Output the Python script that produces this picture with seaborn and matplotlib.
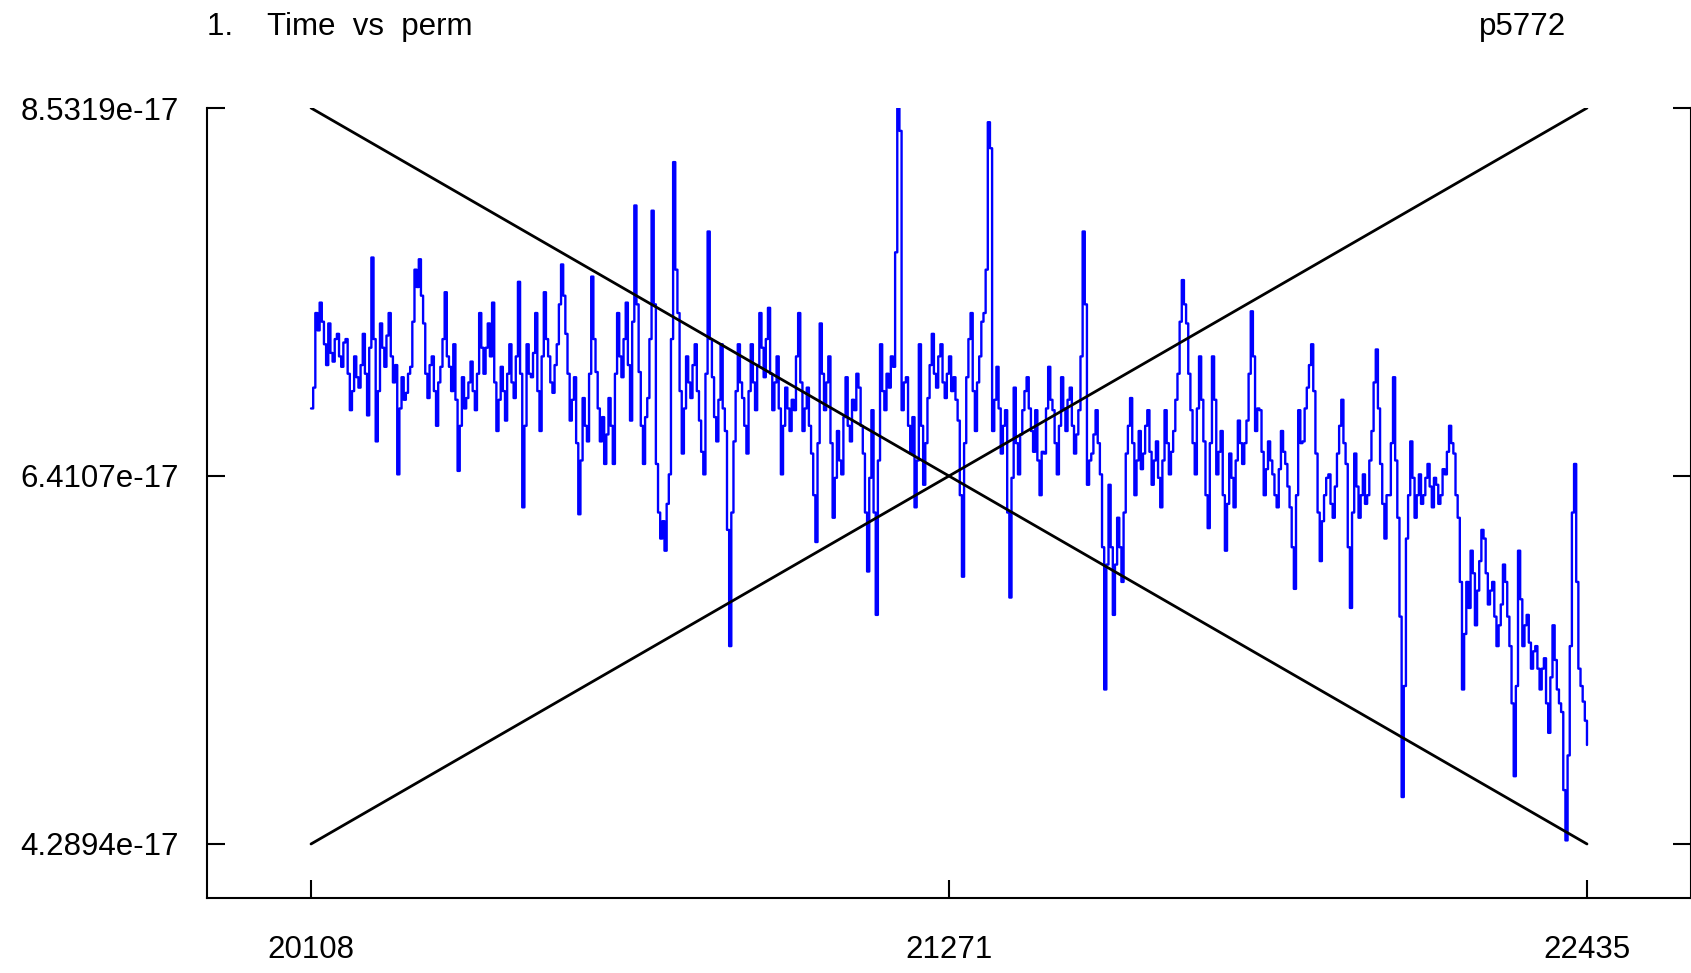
import numpy as np
import pandas as pd
import matplotlib
matplotlib.use("Agg")
import matplotlib.pyplot as plt
import seaborn as sns

# ---- data -----------------------------------------------------------------
x_start, x_mid, x_end = 20108, 21271, 22435
y_low, y_mid, y_high = 4.2894e-17, 6.4107e-17, 8.5319e-17

# sampled series (units of 1e-17), evenly spaced from x_start to x_end
perm_vals = [
    6.80, 6.92, 7.35, 7.25, 7.41, 7.30, 7.17, 7.05, 7.29, 7.12, 7.07, 7.20, 7.23, 7.10, 7.04, 7.18, 7.20, 7.00, 6.79, 6.90,
    7.10, 6.98, 6.92, 7.05, 7.23, 7.00, 6.76, 7.15, 7.67, 7.20, 6.61, 6.90, 7.29, 7.15, 7.04, 7.22, 7.35, 7.10, 6.95, 7.05,
    6.42, 6.80, 6.98, 6.85, 6.89, 7.00, 7.04, 7.30, 7.60, 7.50, 7.66, 7.45, 7.29, 7.00, 6.86, 7.05, 7.10, 6.90, 6.70, 6.95,
    7.04, 7.20, 7.47, 7.10, 7.04, 6.90, 7.17, 6.85, 6.44, 6.70, 6.98, 6.80, 6.86, 6.95, 7.07, 6.90, 6.79, 7.00, 7.35, 7.15,
    7.00, 7.15, 7.29, 7.10, 7.41, 6.95, 6.67, 6.85, 7.04, 6.90, 6.73, 7.00, 7.17, 6.95, 6.86, 7.10, 7.53, 7.00, 6.23, 6.70,
    7.17, 7.00, 6.98, 7.12, 7.35, 6.90, 6.67, 7.10, 7.47, 7.20, 7.10, 6.95, 6.89, 7.05, 7.17, 7.40, 7.63, 7.45, 7.23, 7.00,
    6.73, 6.85, 6.98, 6.60, 6.19, 6.50, 6.86, 6.70, 6.61, 7.00, 7.56, 7.20, 7.01, 6.80, 6.61, 6.75, 6.48, 6.65, 6.86, 6.70,
    6.48, 7.00, 7.35, 7.10, 6.98, 7.20, 7.41, 7.05, 6.73, 7.30, 7.97, 7.40, 7.01, 6.70, 6.48, 6.75, 6.86, 7.20, 7.94, 7.40,
    6.48, 6.20, 6.05, 6.15, 5.98, 6.25, 6.42, 7.20, 8.22, 7.60, 7.35, 6.90, 6.54, 6.80, 7.10, 6.95, 6.86, 7.05, 7.17, 6.90,
    6.73, 6.55, 6.42, 7.00, 7.82, 7.20, 6.98, 6.75, 6.61, 6.85, 7.17, 6.80, 6.67, 6.10, 5.43, 6.20, 6.61, 6.90, 7.17, 6.95,
    6.86, 6.70, 6.54, 6.90, 7.17, 6.95, 6.79, 7.05, 7.35, 7.15, 6.98, 7.20, 7.38, 7.00, 6.79, 6.95, 7.10, 6.80, 6.42, 6.70,
    6.92, 6.80, 6.67, 6.85, 6.79, 7.10, 7.35, 6.95, 6.67, 6.80, 6.92, 6.70, 6.54, 6.30, 6.03, 6.60, 7.29, 7.00, 6.79, 6.95,
    7.10, 6.60, 6.17, 6.40, 6.67, 6.50, 6.42, 6.75, 6.98, 6.70, 6.61, 6.85, 6.79, 7.00, 6.92, 6.70, 6.54, 6.20, 5.86, 6.40,
    6.79, 6.20, 5.61, 6.50, 7.17, 6.90, 6.79, 7.00, 6.92, 7.10, 7.04, 7.70, 8.53, 8.40, 6.79, 6.95, 6.98, 6.70, 6.54, 6.75,
    6.23, 6.50, 7.17, 6.70, 6.36, 6.60, 6.86, 7.05, 7.23, 7.00, 6.92, 7.10, 7.17, 6.95, 6.86, 7.00, 7.10, 6.90, 6.98, 6.85,
    6.73, 6.30, 5.83, 6.60, 6.98, 7.20, 7.35, 6.90, 6.67, 6.95, 7.10, 7.30, 7.35, 7.60, 8.45, 8.30, 6.67, 6.85, 7.04, 6.80,
    6.54, 6.70, 6.79, 6.20, 5.71, 6.40, 6.92, 6.60, 6.42, 6.65, 6.79, 6.90, 6.98, 6.80, 6.67, 6.55, 6.79, 6.50, 6.30, 6.55,
    6.54, 6.80, 7.04, 6.85, 6.79, 6.60, 6.42, 6.70, 6.98, 6.80, 6.67, 6.85, 6.92, 6.70, 6.54, 6.65, 6.79, 7.10, 7.82, 7.40,
    6.36, 6.50, 6.54, 6.65, 6.79, 6.60, 6.42, 6.00, 5.18, 5.90, 6.36, 6.00, 5.61, 5.90, 6.17, 6.00, 5.80, 6.20, 6.54, 6.70,
    6.86, 6.60, 6.30, 6.50, 6.67, 6.45, 6.54, 6.70, 6.79, 6.55, 6.36, 6.50, 6.61, 6.40, 6.23, 6.50, 6.79, 6.60, 6.42, 6.55,
    6.67, 6.85, 7.00, 7.30, 7.54, 7.40, 7.29, 7.00, 6.79, 6.60, 6.42, 6.80, 7.10, 6.85, 6.61, 6.30, 6.11, 6.60, 7.10, 6.85,
    6.42, 6.55, 6.67, 6.30, 5.98, 6.25, 6.54, 6.40, 6.23, 6.50, 6.73, 6.60, 6.48, 6.60, 6.73, 7.00, 7.36, 7.10, 6.67, 6.80,
    6.79, 6.55, 6.30, 6.45, 6.61, 6.50, 6.42, 6.30, 6.23, 6.45, 6.67, 6.55, 6.48, 6.35, 6.23, 6.00, 5.76, 6.30, 6.79, 6.60,
    6.61, 6.80, 6.92, 7.05, 7.17, 6.90, 6.54, 6.20, 5.92, 6.15, 6.30, 6.40, 6.42, 6.25, 6.17, 6.35, 6.54, 6.70, 6.85, 6.60,
    6.48, 6.00, 5.65, 6.20, 6.54, 6.35, 6.17, 6.30, 6.42, 6.25, 6.30, 6.50, 6.67, 6.95, 7.14, 6.80, 6.48, 6.25, 6.05, 6.30,
    6.30, 6.60, 6.98, 6.50, 6.17, 5.60, 4.56, 5.20, 6.05, 6.30, 6.61, 6.40, 6.17, 6.30, 6.42, 6.25, 6.30, 6.40, 6.48, 6.35,
    6.23, 6.40, 6.36, 6.25, 6.30, 6.45, 6.42, 6.55, 6.70, 6.60, 6.54, 6.30, 6.17, 5.80, 5.18, 5.50, 5.80, 5.65, 5.98, 5.85,
    5.55, 5.75, 5.92, 6.10, 6.05, 5.85, 5.67, 5.75, 5.80, 5.60, 5.43, 5.55, 5.67, 5.90, 5.80, 5.60, 5.43, 5.10, 4.68, 5.20,
    5.98, 5.70, 5.43, 5.55, 5.61, 5.45, 5.30, 5.40, 5.43, 5.30, 5.18, 5.30, 5.36, 5.10, 4.93, 5.25, 5.55, 5.35, 5.18, 5.10,
    5.05, 4.60, 4.31, 4.80, 5.43, 6.20, 6.48, 5.80, 5.30, 5.20, 5.11, 5.00, 4.86,
]

perm = pd.DataFrame({
    "time": np.linspace(x_start, x_end, len(perm_vals)),
    "perm": np.array(perm_vals) * 1e-17,
})

# the two diagonal reference lines
diag_x = [x_start, x_end]
diag_down = [y_high, y_low]
diag_up = [y_low, y_high]

x_ticks = [x_start, x_mid, x_end]
x_ticklabels = ["20108", "21271", "22435"]
y_ticks = [y_low, y_mid, y_high]
y_ticklabels = ["4.2894e-17", "6.4107e-17", "8.5319e-17"]

# ---- style ----------------------------------------------------------------
sns.set_style("ticks")
plt.rcParams["font.family"] = ["Liberation Sans", "DejaVu Sans"]
plt.rcParams["text.color"] = "black"

W, H, DPI = 1691, 973, 100
fig = plt.figure(figsize=(W / DPI, H / DPI), dpi=DPI)
ax = fig.add_axes([207 / W, 1 - 898 / H, 1 - 207 / W, (898 - 108) / H])

sns.lineplot(data=perm, x="time", y="perm", ax=ax, color="#0000ff",
             linewidth=1.7, drawstyle="steps-post", estimator=None,
             sort=False, legend=False)
sns.lineplot(x=diag_x, y=diag_down, ax=ax, color="black", linewidth=2.0,
             estimator=None, legend=False)
sns.lineplot(x=diag_x, y=diag_up, ax=ax, color="black", linewidth=2.0,
             estimator=None, legend=False)

pad_x = 189.7
ax.set_xlim(x_start - pad_x, x_end + pad_x)
ax.set_ylim(3.978e-17, y_high)

ax.set_xticks(x_ticks)
ax.set_xticklabels(x_ticklabels)
ax.set_yticks(y_ticks)
ax.set_yticklabels(y_ticklabels)
ax.set_xlabel("")
ax.set_ylabel("")

for side in ("left", "bottom", "right"):
    ax.spines[side].set_visible(True)
    ax.spines[side].set_linewidth(1.5)
    ax.spines[side].set_color("black")
ax.spines["top"].set_visible(False)

ax.tick_params(axis="both", direction="in", length=13, width=1.5,
               labelsize=22.5, colors="black")
ax.tick_params(axis="y", right=True, pad=20)
ax.tick_params(axis="x", pad=27)

fig.text(207 / W, 1 - 27 / H, "1.    Time  vs  perm", fontsize=22.5,
         ha="left", va="center", color="black")
fig.text(1566 / W, 1 - 27 / H, "p5772", fontsize=22.5,
         ha="right", va="center", color="black")

fig.savefig("out.png", dpi=DPI)
